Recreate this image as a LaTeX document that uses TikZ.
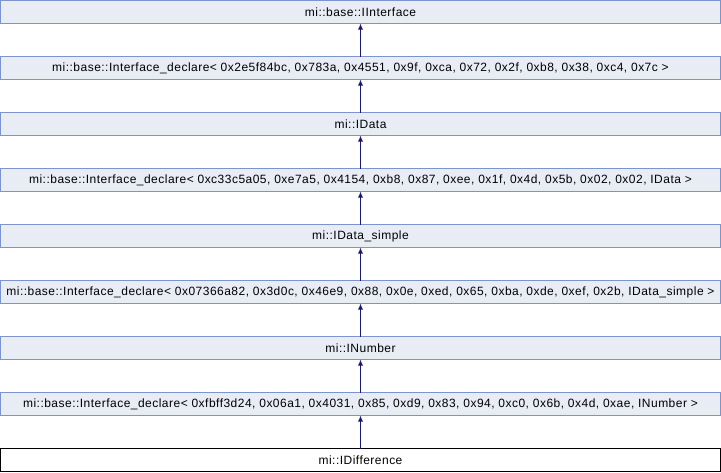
\documentclass[tikz,border=0pt]{standalone}
\usepackage{fontspec}
\setmainfont[LetterSpace=4]{Liberation Sans}
\usetikzlibrary{arrows.meta}
\definecolor{boxfill}{RGB}{232,236,245}
\definecolor{boxline}{RGB}{124,148,204}
\definecolor{edgeblue}{RGB}{25,25,112}
\begin{document}
\begin{tikzpicture}[x=1pt,y=-1pt,
  cls/.style={draw=boxline,fill=boxfill,line width=1pt,minimum width=720pt,minimum height=23pt,inner sep=0pt,outer sep=0pt,font=\fontsize{12}{14}\selectfont},
  leaf/.style={cls,draw=black,fill=white},
  inh/.style={draw=edgeblue,line width=1pt,-{Latex[length=6pt,width=5pt]}}]
\useasboundingbox (0,0) rectangle (721,472);
\node[cls] (iface) at (360.5,12) {mi::base::IInterface};
\node[cls] (declA) at (360.5,68) {mi::base::Interface\_declare< 0x2e5f84bc, 0x783a, 0x4551, 0x9f, 0xca, 0x72, 0x2f, 0xb8, 0x38, 0xc4, 0x7c >};
\node[cls] (idata) at (360.5,124) {mi::IData};
\node[cls] (declB) at (360.5,180) {mi::base::Interface\_declare< 0xc33c5a05, 0xe7a5, 0x4154, 0xb8, 0x87, 0xee, 0x1f, 0x4d, 0x5b, 0x02, 0x02, IData >};
\node[cls] (simple) at (360.5,236) {mi::IData\_simple};
\node[cls] (declC) at (360.5,292) {mi::base::Interface\_declare< 0x07366a82, 0x3d0c, 0x46e9, 0x88, 0x0e, 0xed, 0x65, 0xba, 0xde, 0xef, 0x2b, IData\_simple >};
\node[cls] (number) at (360.5,348) {mi::INumber};
\node[cls] (declD) at (360.5,404) {mi::base::Interface\_declare< 0xfbff3d24, 0x06a1, 0x4031, 0x85, 0xd9, 0x83, 0x94, 0xc0, 0x6b, 0x4d, 0xae, INumber >};
\node[leaf] (diff) at (360.5,460) {mi::IDifference};
\draw[inh] (declA.north) -- (iface.south);
\draw[inh] (idata.north) -- (declA.south);
\draw[inh] (declB.north) -- (idata.south);
\draw[inh] (simple.north) -- (declB.south);
\draw[inh] (declC.north) -- (simple.south);
\draw[inh] (number.north) -- (declC.south);
\draw[inh] (declD.north) -- (number.south);
\draw[inh] (diff.north) -- (declD.south);
\end{tikzpicture}
\end{document}
